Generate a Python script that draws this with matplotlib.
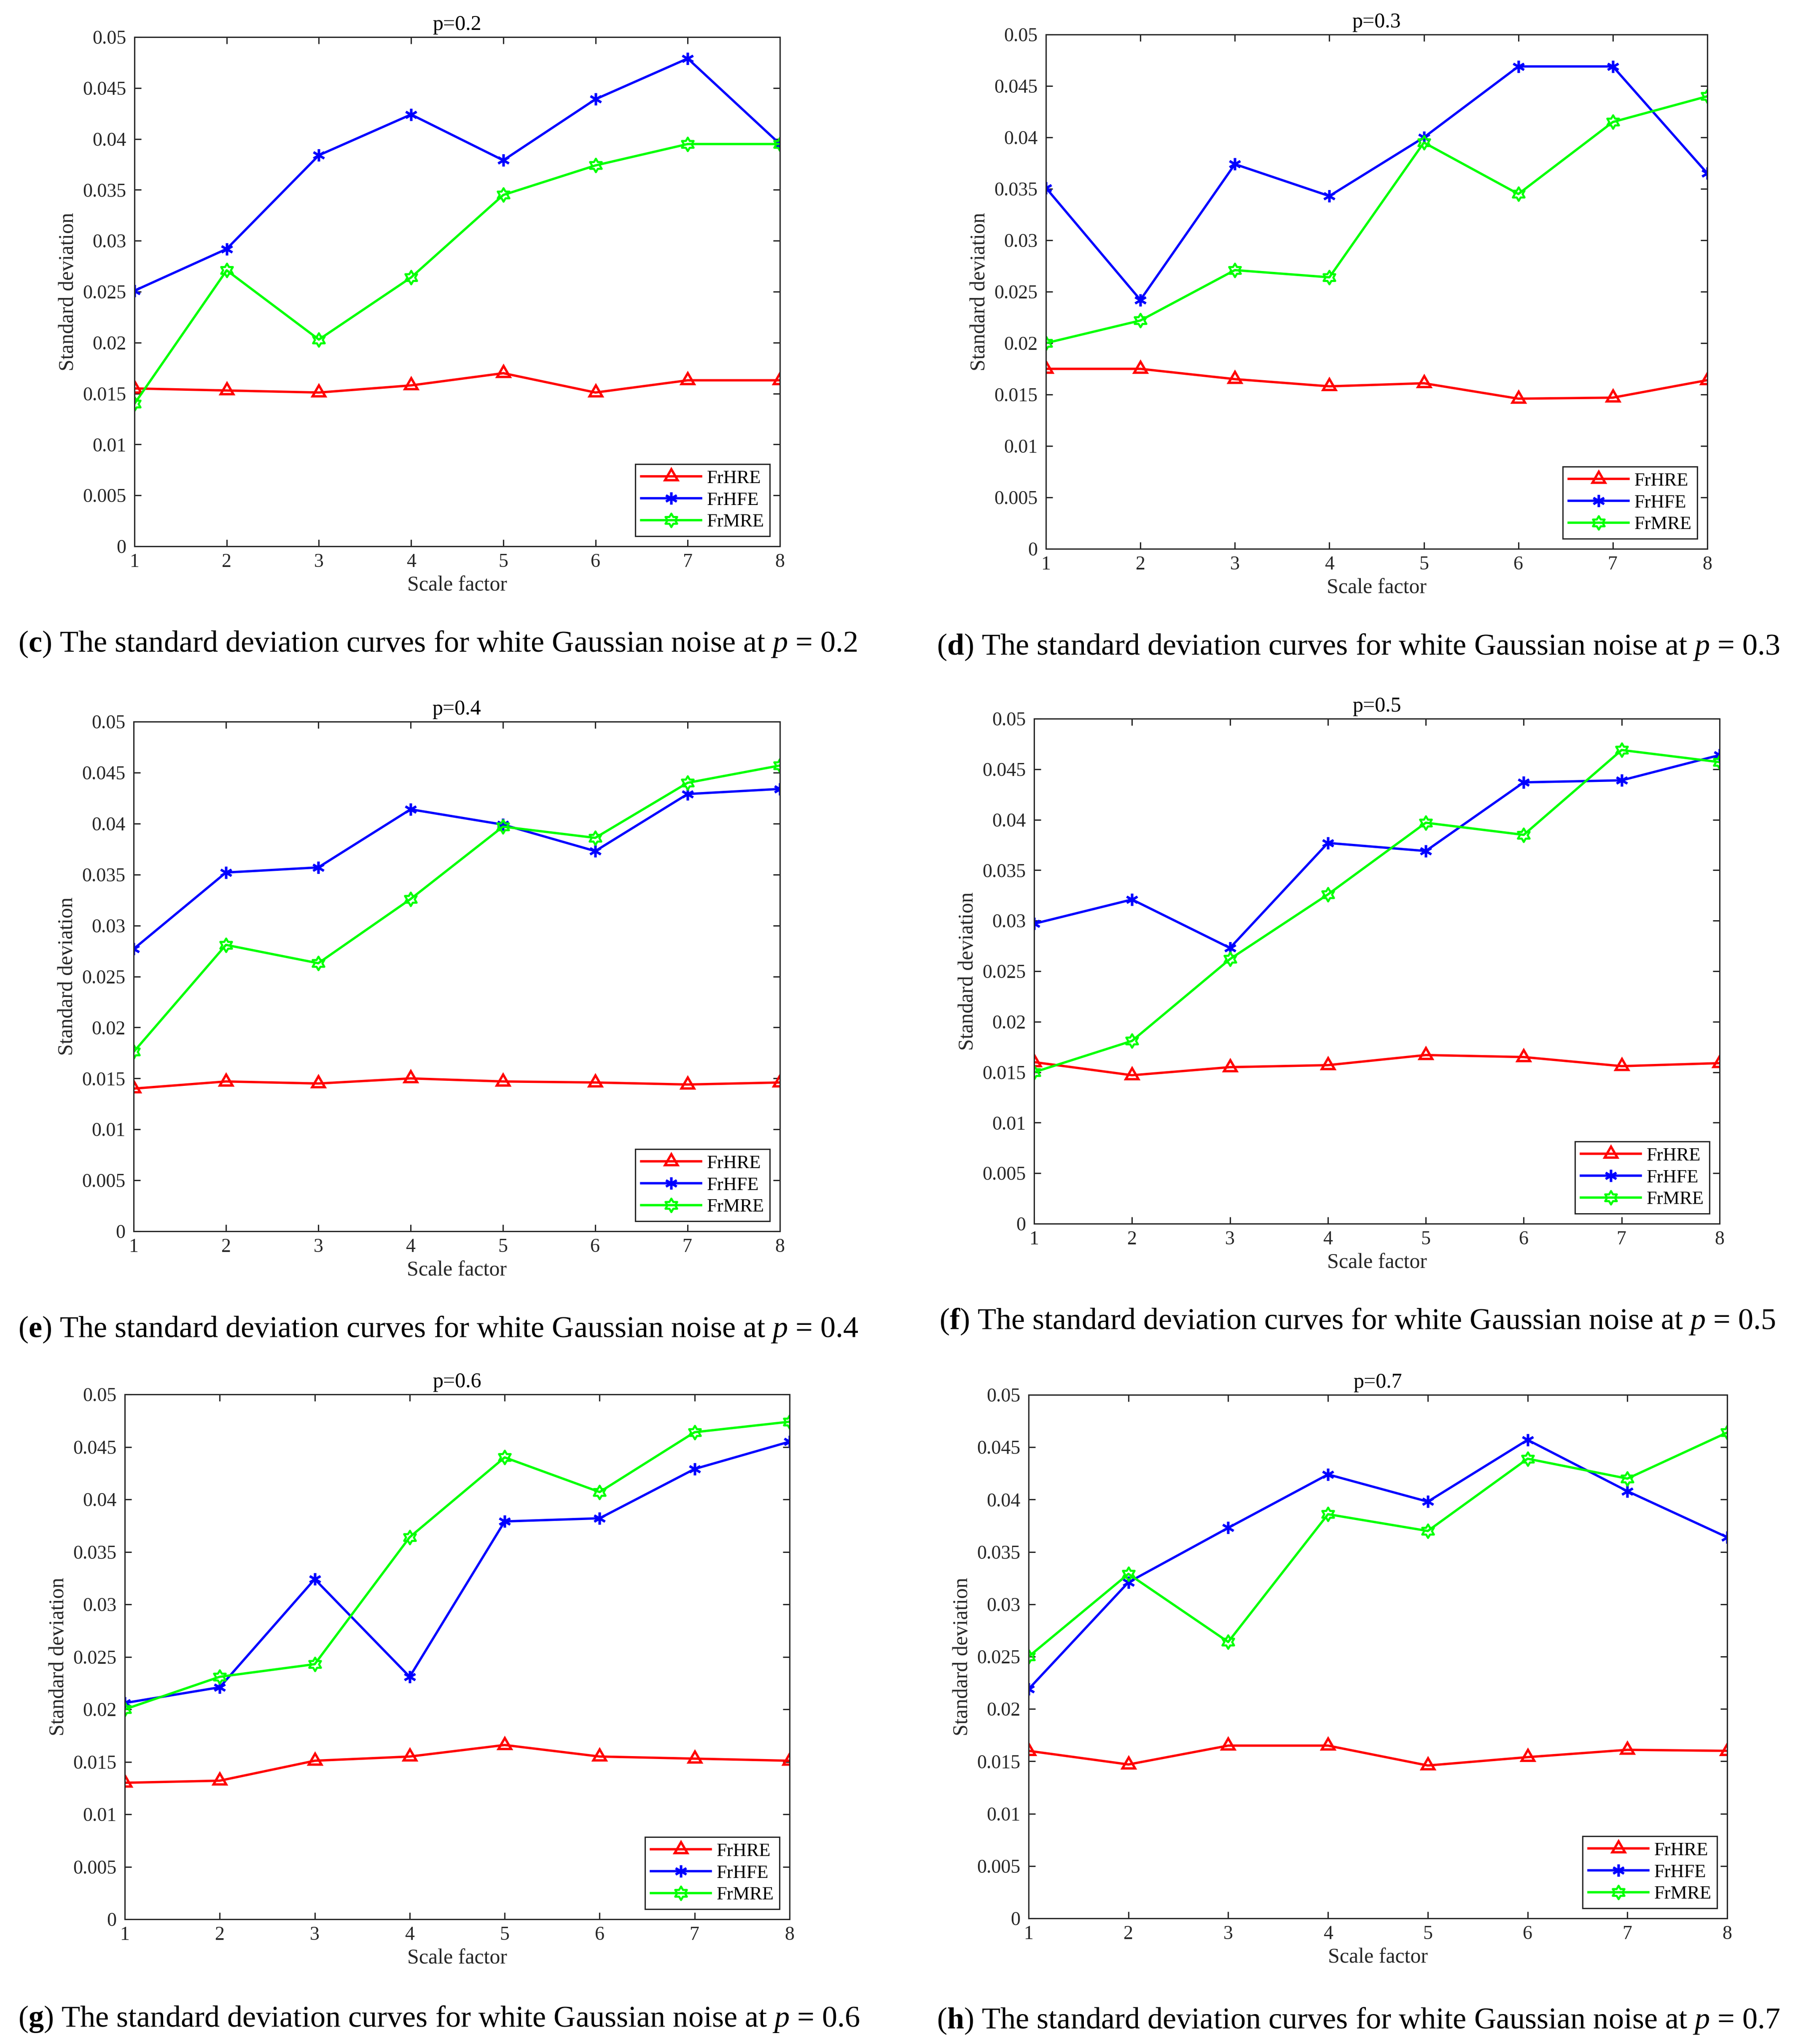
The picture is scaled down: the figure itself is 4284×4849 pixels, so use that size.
import matplotlib
matplotlib.use("Agg")
import matplotlib.pyplot as plt
import numpy as np
from matplotlib.path import Path
from matplotlib.markers import MarkerStyle

plt.rcParams['font.family'] = ['Liberation Serif', 'DejaVu Serif']
plt.rcParams['mathtext.fontset'] = 'custom'
plt.rcParams['mathtext.rm'] = 'Liberation Serif'
plt.rcParams['mathtext.it'] = 'Liberation Serif:italic'
plt.rcParams['mathtext.bf'] = 'Liberation Serif:bold'

# ---- data ----
scale = [1, 2, 3, 4, 5, 6, 7, 8]

hre_p02 = [0.0155, 0.0153, 0.0151, 0.0158, 0.0170, 0.0151, 0.0163, 0.0163]
hfe_p02 = [0.0251, 0.0292, 0.0384, 0.0424, 0.0379, 0.0439, 0.0479, 0.0395]
mre_p02 = [0.0140, 0.0271, 0.0203, 0.0264, 0.0345, 0.0374, 0.0395, 0.0395]

hre_p03 = [0.0175, 0.0175, 0.0165, 0.0158, 0.0161, 0.0146, 0.0147, 0.0164]
hfe_p03 = [0.0351, 0.0242, 0.0374, 0.0343, 0.0400, 0.0469, 0.0469, 0.0365]
mre_p03 = [0.0200, 0.0222, 0.0271, 0.0264, 0.0395, 0.0345, 0.0415, 0.0440]

hre_p04 = [0.0140, 0.0147, 0.0145, 0.0150, 0.0147, 0.0146, 0.0144, 0.0146]
hfe_p04 = [0.0277, 0.0352, 0.0357, 0.0414, 0.0399, 0.0373, 0.0429, 0.0434]
mre_p04 = [0.0176, 0.0281, 0.0263, 0.0326, 0.0397, 0.0386, 0.0440, 0.0457]

hre_p05 = [0.0160, 0.0147, 0.0155, 0.0157, 0.0167, 0.0165, 0.0156, 0.0159]
hfe_p05 = [0.0297, 0.0321, 0.0273, 0.0377, 0.0369, 0.0437, 0.0439, 0.0464]
mre_p05 = [0.0150, 0.0181, 0.0262, 0.0326, 0.0397, 0.0385, 0.0469, 0.0457]

hre_p06 = [0.0130, 0.0132, 0.0151, 0.0155, 0.0166, 0.0155, 0.0153, 0.0151]
hfe_p06 = [0.0206, 0.0221, 0.0324, 0.0231, 0.0379, 0.0382, 0.0429, 0.0455]
mre_p06 = [0.0200, 0.0231, 0.0243, 0.0364, 0.0440, 0.0407, 0.0464, 0.0474]

hre_p07 = [0.0160, 0.0147, 0.0165, 0.0165, 0.0146, 0.0154, 0.0161, 0.0160]
hfe_p07 = [0.0219, 0.0321, 0.0373, 0.0424, 0.0398, 0.0457, 0.0408, 0.0364]
mre_p07 = [0.0250, 0.0329, 0.0264, 0.0386, 0.0370, 0.0439, 0.0420, 0.0464]

p_values = ['0.2', '0.3', '0.4', '0.5', '0.6', '0.7']
letters = ['c', 'd', 'e', 'f', 'g', 'h']
series_names = ['FrHRE', 'FrHFE', 'FrMRE']
yticks = [0, 0.005, 0.01, 0.015, 0.02, 0.025, 0.03, 0.035, 0.04, 0.045, 0.05]

# ---- layout (pixels in the 4284x4849 canvas) ----
W, H = 4284, 4849
axes_px = [(319, 1850, 88, 1296), (2481, 4050, 82, 1302),
           (317, 1850, 1712, 2921), (2453, 4079, 1705, 2903),
           (296, 1873, 3308, 4553), (2440, 4097, 3309, 4551)]
caption_px = [(43, 1528), (2222, 1535), (43, 3154), (2228, 3135),
              (43, 4790), (2222, 4794)]

panel_data = [(hre_p02, hfe_p02, mre_p02), (hre_p03, hfe_p03, mre_p03),
              (hre_p04, hfe_p04, mre_p04), (hre_p05, hfe_p05, mre_p05),
              (hre_p06, hfe_p06, mre_p06), (hre_p07, hfe_p07, mre_p07)]

# markers similar to MATLAB's '^', '*', 'h'
tri = MarkerStyle((3, 0, 0), joinstyle='miter')
ast = MarkerStyle((6, 2, 0))
ang_out = np.deg2rad(90 + 60 * np.arange(6))
ang_in = ang_out + np.deg2rad(30)
r_in = 1 / np.sqrt(3)
hverts = []
for a, b in zip(ang_out, ang_in):
    hverts.append((np.cos(a), np.sin(a)))
    hverts.append((r_in * np.cos(b), r_in * np.sin(b)))
hverts.append(hverts[0])
hcodes = [Path.MOVETO] + [Path.LINETO] * 11 + [Path.CLOSEPOLY]
hexa = MarkerStyle(Path(hverts, hcodes), joinstyle='miter')

styles = [dict(color='#FF0000', marker=tri, markersize=25, mew=4),
          dict(color='#0000FF', marker=ast, markersize=21, mew=4),
          dict(color='#00FF00', marker=hexa, markersize=23, mew=3.5)]

dark = '#262626'
fig = plt.figure(figsize=(W / 100, H / 100), dpi=100)

for i in range(6):
    l, r, t, b = axes_px[i]
    ax = fig.add_axes([l / W, 1 - b / H, (r - l) / W, (b - t) / H])
    for vals, name, st in zip(panel_data[i], series_names, styles):
        ax.plot(scale, vals, label=name, lw=4, mfc='none', **st)
    ax.set_xlim(1, 8)
    ax.set_ylim(0, 0.05)
    ax.set_xticks(scale)
    ax.set_yticks(yticks)
    ax.set_yticklabels(['%g' % v for v in yticks])
    ax.tick_params(direction='in', top=True, right=True, length=11.5,
                   width=2.2, color=dark, labelcolor=dark, labelsize=33)
    ax.tick_params(axis='x', pad=12)
    ax.tick_params(axis='y', pad=14)
    for sp in ax.spines.values():
        sp.set_linewidth(2.2)
        sp.set_color(dark)
    ax.set_xlabel('Scale factor', fontsize=36, color=dark, labelpad=8)
    ax.set_ylabel('Standard deviation', fontsize=36, color=dark, labelpad=8)
    ax.set_title('p=' + p_values[i], fontsize=36, color='black', pad=12)
    leg = ax.legend(loc='lower right', fontsize=32, numpoints=1,
                    handlelength=3.2, handletextpad=0.3, labelspacing=0.26,
                    borderpad=0.3, borderaxespad=0.55, fancybox=False,
                    framealpha=1)
    leg.get_frame().set_edgecolor(dark)
    leg.get_frame().set_linewidth(2.2)

    cx, cy = caption_px[i]
    fig.text(cx / W, 1 - cy / H,
             r'($\mathbf{%s}$) The standard deviation curves for white '
             r'Gaussian noise at $p$ = %s' % (letters[i], p_values[i]),
             fontsize=52, ha='left', va='center', color='black')

fig.savefig('out.png', dpi=100)
